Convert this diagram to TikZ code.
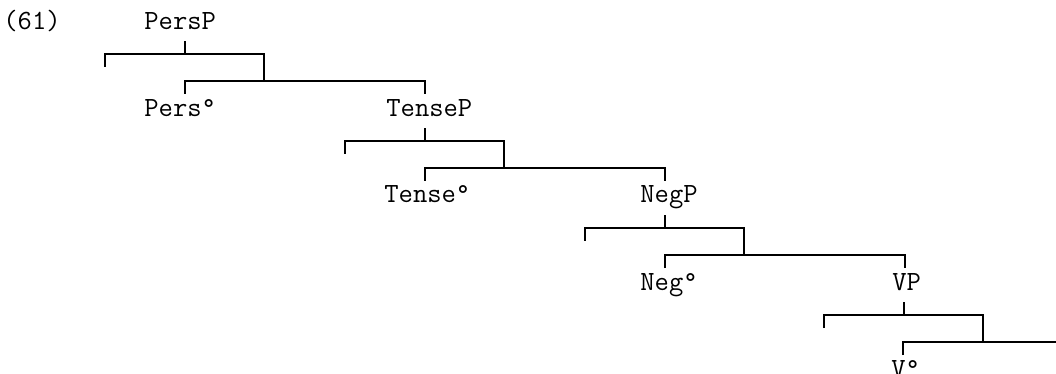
\documentclass[tikz,border=0pt]{standalone}
\usepackage{fontspec}
\tikzset{
  word/.style={font=\ttfamily\fontsize{13.9}{16}\selectfont, anchor=base west, inner sep=0pt},
  branch/.style={line width=0.8pt}
}

\begin{document}
\begin{tikzpicture}[x=0.5pt, y=-0.5pt]
\useasboundingbox (0,0) rectangle (1056,374);

\node[word] (ex) at (3,30) {(61)};

% PersP
\node[word] (persp) at (144,30) {PersP};
\node[word] (pers) at (144,117) {Pers°};
\coordinate (persp-j) at (185,54);
\draw[branch] (persp-j) -- ++(0,-13);
\draw[branch] (persp-j) ++(-80,13) |- ++(159,-13) -- ++(0,27) coordinate (persp-k);
\draw[branch] (persp-k) ++(-79,13) |- ++(240,-13) -- ++(0,13);

% TenseP
\node[word] (tensep) at (386,117) {TenseP};
\node[word] (tense) at (384,203) {Tense°};
\coordinate (tensep-j) at (425,141);
\draw[branch] (tensep-j) -- ++(0,-13);
\draw[branch] (tensep-j) ++(-80,13) |- ++(159,-13) -- ++(0,27) coordinate (tensep-k);
\draw[branch] (tensep-k) ++(-79,13) |- ++(240,-13) -- ++(0,13);

% NegP
\node[word] (negp) at (640,203) {NegP};
\node[word] (neg) at (640,290) {Neg°};
\coordinate (negp-j) at (665,228);
\draw[branch] (negp-j) -- ++(0,-13);
\draw[branch] (negp-j) ++(-80,13) |- ++(159,-13) -- ++(0,27) coordinate (negp-k);
\draw[branch] (negp-k) ++(-79,13) |- ++(240,-13) -- ++(0,13);

% VP
\node[word] (vp) at (892,290) {VP};
\node[word] (v) at (891,377) {V°};
\coordinate (vp-j) at (904,315);
\draw[branch] (vp-j) -- ++(0,-13);
\draw[branch] (vp-j) ++(-80,13) |- ++(159,-13) -- ++(0,27) coordinate (vp-k);
\coordinate (edge) at (1056,342);
\draw[branch] (vp-k) ++(-80,13) |- (edge);
\end{tikzpicture}
\end{document}
